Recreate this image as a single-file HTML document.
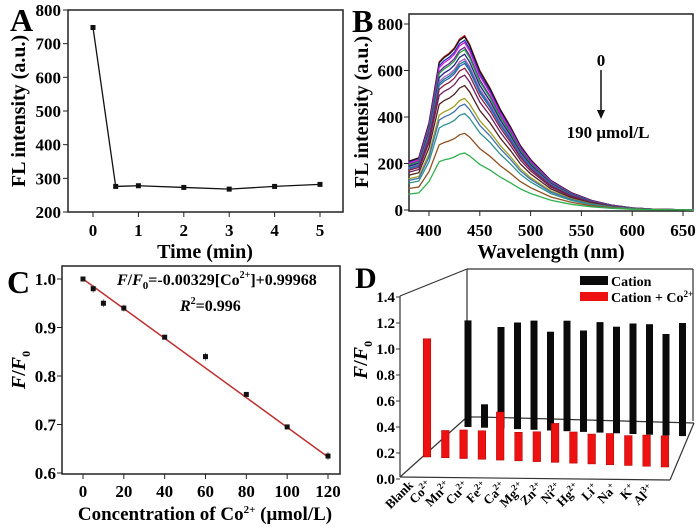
<!DOCTYPE html>
<html><head><meta charset="utf-8"><style>
html,body{margin:0;padding:0;background:#fff;}
svg{display:block;font-family:"Liberation Serif",serif;font-weight:bold;}
</style></head><body>
<svg id="fig" width="700" height="528" viewBox="0 0 700 528" xmlns="http://www.w3.org/2000/svg">
<g id="pA"></g>
<g id="pB"></g>
<g id="pC"></g>
<g id="pD"></g>
</svg>
<script>
// ---- Panel A data
const timeA = [0, 0.5, 1, 2, 3, 4, 5];
const intensA = [748, 276, 278, 273, 268, 276, 282];
const ticksAx = [0, 1, 2, 3, 4, 5];
const ticksAy = [200, 300, 400, 500, 600, 700, 800];
// ---- Panel B data
const wlB = [380,390,400,410,415,420,425,430,435,440,450,460,470,480,490,500,520,540,560,580,600,620,660];
const shapeB = [0.28,0.30,0.50,0.85,0.88,0.90,0.93,0.98,1.0,0.95,0.80,0.70,0.58,0.48,0.37,0.29,0.17,0.10,0.055,0.028,0.012,0.005,0.0];
const peaksB = [750,745,730,720,700,690,670,650,640,630,610,580,535,480,455,415,330,245];
const colorsB = ["#d02020","#111111","#2030c0","#d020d0","#7020a0","#20a040","#202080","#b060d0","#208080","#3060c0","#8a2040","#702060","#502020","#a0a020","#4070b0","#309090","#905020","#30b050"];
const ticksBx = [400,450,500,550,600,650];
const ticksBy = [0,200,400,600,800];
// ---- Panel C data
const concC = [0,5,10,20,40,60,80,100,120];
const ratioC = [1.0,0.98,0.95,0.94,0.88,0.84,0.762,0.695,0.635];
const errC = [0.003,0.008,0.008,0.007,0.003,0.008,0.005,0.003,0.008];
const fitXC = [0,120];
const fitYC = [1.0,0.633];
const ticksCx = [0,20,40,60,80,100,120];
const ticksCy = [0.6,0.7,0.8,0.9,1.0];
// ---- Panel D data
const ionsD = ["Blank","Co","Mn","Cu","Fe","Ca","Mg","Zn","Ni","Hg","Li","Na","K","Al"];
const ionSupD = ["","2+","2+","2+","2+","2+","2+","2+","2+","2+","+","+","+","3+"];
const redD = [0.91,0.21,0.22,0.22,0.37,0.22,0.23,0.30,0.24,0.23,0.24,0.23,0.24,0.24];
const blackD = [0.82,0.18,0.78,0.82,0.84,0.76,0.85,0.78,0.85,0.82,0.85,0.85,0.78,0.87];
const ticksDy = [0.0,0.2,0.4,0.6,0.8,1.0,1.2,1.4];

const NS="http://www.w3.org/2000/svg";
function mk(tag, attrs, parent, txt){const e=document.createElementNS(NS,tag);for(const k in attrs)e.setAttribute(k,attrs[k]);if(txt!==undefined)e.textContent=txt;parent.appendChild(e);return e;}

// ================= Panel A
(function(){
const g=document.getElementById('pA');
const X=v=>93+(v-0)*(320-93)/5, Y=v=>212-(v-200)*(212-10)/600;
const box=mk('rect',{x:68,y:10,width:275,height:202,fill:'none',stroke:'#222','stroke-width':1.5},g);


ticksAx.forEach(t=>{mk('line',{x1:X(t),x2:X(t),y1:212,y2:217,stroke:'#222'},g);
 const l=mk('text',{x:X(t),y:236,'font-size':17,'text-anchor':'middle'},g,t);
 
 });
ticksAy.forEach(t=>{mk('line',{x1:63,x2:68,y1:Y(t),y2:Y(t),stroke:'#222'},g);
 const l=mk('text',{x:61,y:Y(t)+6,'font-size':17,'text-anchor':'end'},g,t);
 
 });
const pts=timeA.map((t,i)=>X(t)+','+Y(intensA[i])).join(' ');
const ln=mk('polyline',{points:pts,fill:'none',stroke:'#111','stroke-width':1.3},g);


timeA.forEach((t,i)=>{const m=mk('rect',{x:X(t)-2.5,y:Y(intensA[i])-2.5,width:5,height:5,fill:'#111'},g);
 
 });
const xt=mk('text',{x:205,y:258,'font-size':20,'text-anchor':'middle'},g,'Time (min)');


const yt=mk('text',{x:0,y:0,'font-size':20,'text-anchor':'middle',transform:'translate(25,111) rotate(-90)'},g,'FL intensity (a.u.)');


const lt=mk('text',{x:10,y:31,'font-size':32},g,'A');


})();

// ================= Panel B
(function(){
const g=document.getElementById('pB');
const X=v=>429+(v-400)*(683-429)/250, Y=v=>210-v*(210-24)/800;
const box=mk('rect',{x:409,y:14,width:284,height:197,fill:'none',stroke:'#222','stroke-width':1.5},g);


ticksBx.forEach(t=>{mk('line',{x1:X(t),x2:X(t),y1:211,y2:216,stroke:'#222'},g);
 const l=mk('text',{x:X(t),y:236,'font-size':17,'text-anchor':'middle'},g,t);
 
 });
ticksBy.forEach(t=>{mk('line',{x1:404,x2:409,y1:Y(t),y2:Y(t),stroke:'#222'},g);
 const l=mk('text',{x:403,y:Y(t)+6,'font-size':17,'text-anchor':'end'},g,t);
 
 });
peaksB.forEach((p,k)=>{
 const pts=wlB.map((w,i)=>X(w).toFixed(1)+','+Y(shapeB[i]*p).toFixed(1)).join(' ');
 const c=mk('polyline',{points:pts,fill:'none',stroke:colorsB[k],'stroke-width':1.3},g);
 
 
});
const a0=mk('text',{x:601,y:66,'font-size':17,'text-anchor':'middle'},g,'0');


mk('line',{x1:601,x2:601,y1:70,y2:112,stroke:'#111','stroke-width':1.5},g);
const ah=mk('polygon',{points:'597,110 605,110 601,119',fill:'#111'},g);


const a1=mk('text',{x:608,y:138,'font-size':17,'text-anchor':'middle'},g,'190 μmol/L');


const xt=mk('text',{x:551,y:258,'font-size':20,'text-anchor':'middle'},g,'Wavelength (nm)');


const yt=mk('text',{x:0,y:0,'font-size':20,'text-anchor':'middle',transform:'translate(368,112) rotate(-90)'},g,'FL intensity (a.u.)');


const lt=mk('text',{x:352,y:32,'font-size':32},g,'B');


})();

// ================= Panel C
(function(){
const g=document.getElementById('pC');
const X=v=>83+v*(328-83)/120, Y=v=>473-(v-0.6)*(473-279)/0.4;
const box=mk('rect',{x:62,y:266,width:278,height:208,fill:'none',stroke:'#222','stroke-width':1.5},g);


ticksCx.forEach(t=>{mk('line',{x1:X(t),x2:X(t),y1:474,y2:479,stroke:'#222'},g);
 const l=mk('text',{x:X(t),y:497,'font-size':17,'text-anchor':'middle'},g,t);
 
 });
ticksCy.forEach(t=>{mk('line',{x1:57,x2:62,y1:Y(t),y2:Y(t),stroke:'#222'},g);
 const l=mk('text',{x:56,y:Y(t)+6,'font-size':17,'text-anchor':'end'},g,t.toFixed(1));
 
 });
const fit=mk('line',{x1:X(fitXC[0]),y1:Y(fitYC[0]),x2:X(fitXC[1]),y2:Y(fitYC[1]),stroke:'#c03030','stroke-width':1.5},g);


concC.forEach((c,i)=>{
 mk('line',{x1:X(c),x2:X(c),y1:Y(ratioC[i]+errC[i]),y2:Y(ratioC[i]-errC[i]),stroke:'#777'},g);
 const m=mk('rect',{x:X(c)-2.5,y:Y(ratioC[i])-2.5,width:5,height:5,fill:'#111'},g);
 
 
});
const eq=mk('text',{x:117,y:285,'font-size':16},g);
eq.innerHTML='<tspan font-style="italic">F</tspan>/<tspan font-style="italic">F</tspan><tspan font-size="11" dy="4">0</tspan><tspan dy="-4">=-0.00329[Co</tspan><tspan font-size="10" dy="-7">2+</tspan><tspan dy="7">]+0.99968</tspan>';


const r2=mk('text',{x:180,y:311,'font-size':16},g);
r2.innerHTML='<tspan font-style="italic">R</tspan><tspan font-size="10" dy="-7">2</tspan><tspan dy="7">=0.996</tspan>';


const xt=mk('text',{x:205,y:520,'font-size':19,'text-anchor':'middle'},g);
xt.innerHTML='Concentration of Co<tspan font-size="11" dy="-7">2+</tspan><tspan dy="7"> (μmol/L)</tspan>';


const yt=mk('text',{x:0,y:0,'font-size':20,'text-anchor':'middle',transform:'translate(25,370) rotate(-90)'},g);
yt.innerHTML='<tspan font-style="italic">F</tspan>/<tspan font-style="italic">F</tspan><tspan font-size="12" dy="5">0</tspan>';


const lt=mk('text',{x:7,y:293,'font-size':32},g,'C');


})();

// ================= Panel D
(function(){
const g=document.getElementById('pD');
const S=130; // px per unit
const Yax=v=>479-v*S;
const fr=[[400,296,400,477],[400,296,467,269],[467,269,693,269],[693,269,693,421],[467,269,467,417],
 [400,477,670,480],[670,480,694,423],[480,417,694,423],[467,417,480,417],[400,477,467,417]];
fr.forEach(f=>{const l=mk('line',{x1:f[0],y1:f[1],x2:f[2],y2:f[3],stroke:'#333','stroke-width':1.2},g);
 
 });
ticksDy.forEach(t=>{mk('line',{x1:396,x2:400,y1:Yax(t),y2:Yax(t),stroke:'#333'},g);
 const l=mk('text',{x:395,y:Yax(t)+5,'font-size':15,'text-anchor':'end'},g,t.toFixed(1));
 
 });
blackD.forEach((v,i)=>{
 const cx=468+i*16.5, by=427+i*0.7, h=v*S;
 const b=mk('rect',{x:cx-3.5,y:by-h,width:7,height:h,fill:'#0a0a0a'},g);
 
 
});
redD.forEach((v,i)=>{
 const cx=427+i*18.3, by=457+i*0.77, h=v*S;
 const b=mk('rect',{x:cx-3.8,y:by-h,width:7.6,height:h,fill:'#ee1111',stroke:'#a00','stroke-width':0.5},g);
 
 
});
ionsD.forEach((n,i)=>{
 const x=414+i*18.5, y=486+i*0.3;
 const t=mk('text',{x:x,y:y,'font-size':13,'text-anchor':'end',transform:'rotate(-45 '+x+' '+y+')'},g);
 t.innerHTML=n+(ionSupD[i]?'<tspan font-size="9" dy="-5">'+ionSupD[i]+'</tspan>':'');
 
 
});
const s1=mk('rect',{x:580,y:276,width:28,height:9,fill:'#0a0a0a'},g);


const t1=mk('text',{x:611,y:286,'font-size':14},g,'Cation');


const s2=mk('rect',{x:580,y:292,width:28,height:9,fill:'#ee1111'},g);


const t2=mk('text',{x:611,y:302,'font-size':14},g);
t2.innerHTML='Cation + Co<tspan font-size="9" dy="-5">2+</tspan>';


const yt=mk('text',{x:0,y:0,'font-size':20,'text-anchor':'middle',transform:'translate(367,360) rotate(-90)'},g);
yt.innerHTML='<tspan font-style="italic">F</tspan>/<tspan font-style="italic">F</tspan><tspan font-size="12" dy="5">0</tspan>';


const lt=mk('text',{x:355,y:288,'font-size':30},g,'D');


})();
</script>
</body></html>
